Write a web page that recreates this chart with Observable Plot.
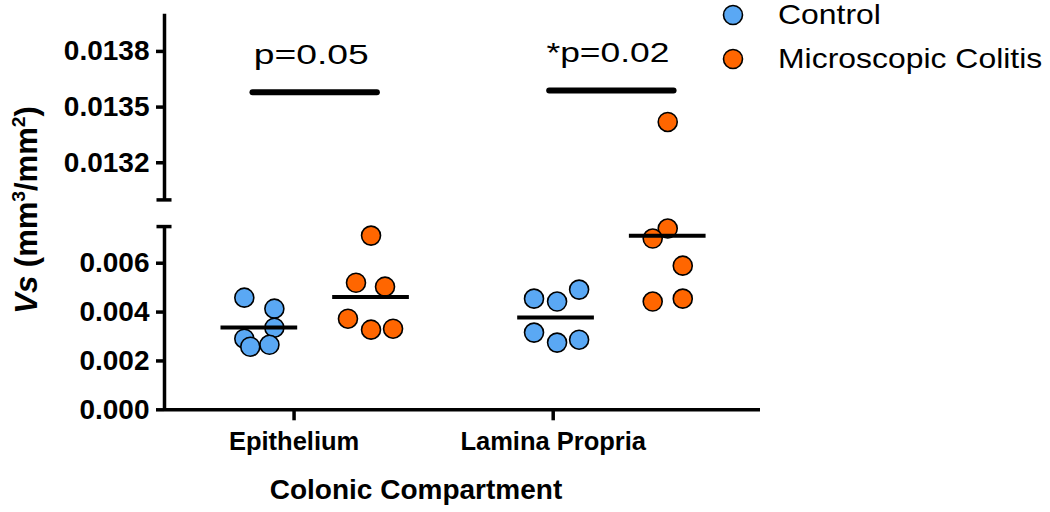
<!DOCTYPE html>
<html>
<head>
<meta charset="utf-8">
<script src="https://cdn.jsdelivr.net/npm/d3@7"></script>
<script src="https://cdn.jsdelivr.net/npm/@observablehq/plot@0.6"></script>
<style>
  body { margin: 0; background: #fff; font-family: "Liberation Sans", Arial, sans-serif; }
  #wrap { position: relative; width: 1050px; height: 512px; overflow: hidden; }
  #ytitle { position: absolute; left: 26px; top: 210px; transform: translate(-50%, -50%) rotate(-90deg);
            white-space: nowrap; font-weight: bold; font-size: 31px; line-height: 1; }
  #ytitle sup { font-size: 0.62em; vertical-align: 0.62em; line-height: 0; }
  #xtitle { position: absolute; left: 416px; top: 476px; transform: translateX(-50%);
            white-space: nowrap; font-weight: bold; font-size: 28px; line-height: 28px; }
  .leg { position: absolute; left: 720px; height: 28px; display: flex; align-items: center; }
  .leg svg { width: 26px; height: 26px; }
  .leg span { position: absolute; left: 58px; font-size: 28px; line-height: 28px; white-space: nowrap;
              transform: scaleX(1.14); transform-origin: left center; top: 0; }
</style>
</head>
<body>
<div id="wrap"></div>
<script>
// ---- data ----
const categories = ["Epithelium", "Lamina Propria"];
const groups = ["Control", "Microscopic Colitis"];
const groupColors = ["#5aa8f4", "#ff6600"];

const epiControl = [0.00459, 0.00414, 0.00336, 0.00291, 0.00258, 0.00266];
const epiColitis = [0.00713, 0.00520, 0.00504, 0.00373, 0.00328, 0.00332];
const lpControl  = [0.00455, 0.00443, 0.00492, 0.00316, 0.00275, 0.00287];
const lpColitis  = [0.01342, 0.00742, 0.00701, 0.00590, 0.00443, 0.00455];

// horizontal scatter of each point inside its column (as seen in the picture)
const epiControlJitter = [-0.058, 0.058, 0.058, -0.058, -0.035, 0.039];
const epiColitisJitter = [0, -0.058, 0.054, -0.089, 0, 0.085];
const lpControlJitter  = [-0.085, 0.004, 0.089, -0.085, 0.004, 0.089];
const lpColitisJitter  = [0, 0, -0.058, 0.058, -0.058, 0.058];

const lowerTicks = [0, 0.002, 0.004, 0.006];
const lowerTickLabels = ["0.000", "0.002", "0.004", "0.006"];
const upperTicks = [0.0132, 0.0135, 0.0138];
const upperTickLabels = ["0.0132", "0.0135", "0.0138"];

const pLabels = ["p=0.05", "*p=0.02"];
const pLevels = [0.01358, 0.01359];

// ---- broken y axis ----
const lowerMax = 0.0075, upperMin = 0.0130, upperMax = 0.0140;
const gapU = 1.092, upperStretch = 7.597;
const u = v => v <= lowerMax ? v * 1000 : lowerMax * 1000 + gapU + (v - upperMin) * 1000 * upperStretch;

const labelMap = new Map();
lowerTicks.forEach((t, i) => labelMap.set(u(t), lowerTickLabels[i]));
upperTicks.forEach((t, i) => labelMap.set(u(t), upperTickLabels[i]));

// ---- layout of columns ----
const xMin = -0.5, xMax = 1.8;
const clusterSpacing = 1.145;
const groupOffset = [-0.134, 0.297];
const colPos = (c, g) => c * clusterSpacing + groupOffset[g];

const series = [
  {c: 0, g: 0, values: epiControl, jitter: epiControlJitter},
  {c: 0, g: 1, values: epiColitis, jitter: epiColitisJitter},
  {c: 1, g: 0, values: lpControl, jitter: lpControlJitter},
  {c: 1, g: 1, values: lpColitis, jitter: lpColitisJitter}
];
const points = series.flatMap(s => s.values.map((v, i) => ({
  category: categories[s.c], group: groups[s.g], value: v, x: colPos(s.c, s.g) + s.jitter[i]
})));
const means = series.map(s => ({x: colPos(s.c, s.g), value: d3.mean(s.values)}));
const sig = pLabels.map((label, c) => ({label, level: pLevels[c], x: (colPos(c, 0) + colPos(c, 1)) / 2}));

const capHalf = 0.029;
const black = "#000";

const chart = Plot.plot({
  width: 1050,
  height: 470,
  marginLeft: 164,
  marginRight: 290,
  marginTop: 13.8,
  marginBottom: 60.7,
  style: {fontFamily: "'Liberation Sans', Arial, sans-serif", background: "transparent", overflow: "visible", color: "#000"},
  x: {type: "linear", domain: [xMin, xMax]},
  y: {type: "linear", domain: [0, u(upperMax)]},
  color: {domain: groups, range: groupColors},
  marks: [
    // axis lines (broken y axis)
    Plot.ruleX([xMin], {x: d => d, y1: () => u(0), y2: () => u(lowerMax), stroke: black, strokeWidth: 3.5}),
    Plot.ruleX([xMin], {x: d => d, y1: () => u(upperMin), y2: () => u(upperMax), stroke: black, strokeWidth: 3.5}),
    Plot.ruleY([lowerMax, upperMin], {y: d => u(d), x1: () => xMin - capHalf, x2: () => xMin + capHalf, stroke: black, strokeWidth: 3.5}),
    Plot.ruleY([0], {y: d => u(d), x1: () => xMin, x2: () => xMax, stroke: black, strokeWidth: 3.5}),
    Plot.axisY({
      ticks: [...lowerTicks, ...upperTicks].map(u),
      tickFormat: d => labelMap.get(d),
      tickSize: 8, tickPadding: 7, strokeWidth: 3.5,
      fontSize: 28, fontWeight: "bold", label: null
    }),
    Plot.axisX({
      ticks: [0, 1],
      tickFormat: i => categories[i],
      tickSize: 11, tickPadding: 11, strokeWidth: 3.5,
      fontSize: 25.5, fontWeight: "bold", label: null
    }),
    // data points
    Plot.dot(points, {x: "x", y: d => u(d.value), r: 9.5, fill: "group", stroke: black, strokeWidth: 1.6}),
    // means
    Plot.ruleY(means, {y: d => u(d.value), x1: d => d.x - 0.148, x2: d => d.x + 0.148, stroke: black, strokeWidth: 4}),
    // significance bars
    Plot.ruleY(sig, {y: d => u(d.level), x1: d => d.x - 0.24, x2: d => d.x + 0.24, stroke: black, strokeWidth: 6, strokeLinecap: "round"}),
    Plot.text(sig, {x: "x", y: d => u(d.level), text: "label", dx: -4, dy: -28, lineAnchor: "bottom", textAnchor: "middle", fontSize: 28, fill: black})
  ]
});

const wrap = document.getElementById("wrap");
wrap.appendChild(chart);

// stretch the p-value texts to the reference widths
const pWidths = [115, 123];
chart.querySelectorAll("text").forEach(t => {
  const k = pLabels.indexOf(t.textContent);
  if (k >= 0) { t.setAttribute("textLength", pWidths[k]); t.setAttribute("lengthAdjust", "spacingAndGlyphs"); }
});

// y title
const yt = document.createElement("div");
yt.id = "ytitle";
yt.innerHTML = "<i>Vs</i> (mm<sup>3</sup>/mm<sup>2</sup>)";
wrap.appendChild(yt);

// x title
const xt = document.createElement("div");
xt.id = "xtitle";
xt.textContent = "Colonic Compartment";
wrap.appendChild(xt);

// legend
const legTops = [1, 45];
groups.forEach((g, i) => {
  const row = document.createElement("div");
  row.className = "leg";
  row.style.top = legTops[i] + "px";
  row.innerHTML = `<svg viewBox="0 0 26 26"><circle cx="13" cy="13" r="9.5" fill="${groupColors[i]}" stroke="#000" stroke-width="1.6"/></svg><span>${g}</span>`;
  wrap.appendChild(row);
});
</script>
</body>
</html>
